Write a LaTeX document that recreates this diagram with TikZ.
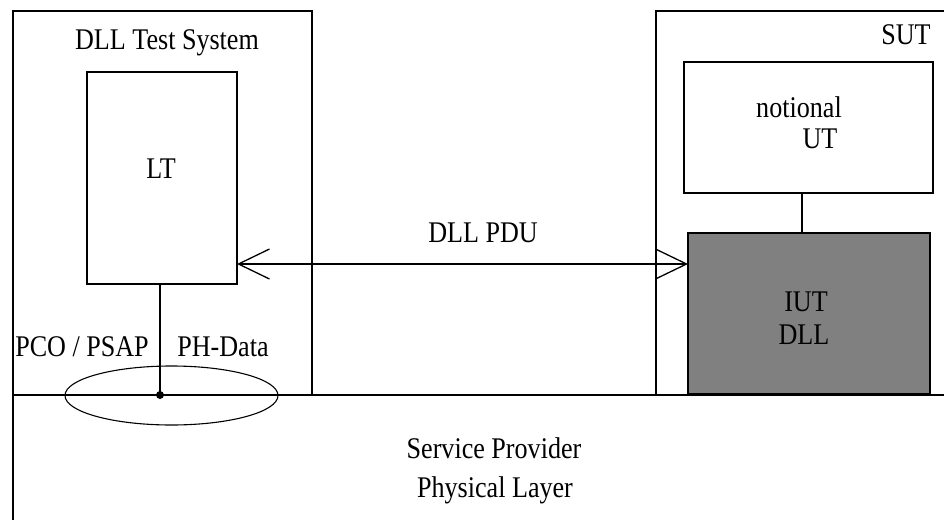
\documentclass[tikz,border=0pt]{standalone}
\usepackage{fontspec}
\setmainfont{Liberation Serif}[FakeStretch=0.87]
\usetikzlibrary{arrows.meta,shapes.geometric}
\definecolor{iutgray}{HTML}{808080}
\begin{document}
\begin{tikzpicture}[x=1pt,y=-1pt,
  box/.style={draw=black,line width=1.1pt,inner sep=0pt,outer sep=0pt,rectangle},
  lbl/.style={inner sep=0pt,anchor=base,font=\fontsize{30}{30}\selectfont},
  thick line/.style={line width=2pt},
  barb/.style={{Straight Barb[length=31pt,width=30pt,line width=1.3pt]}-{Straight Barb[length=31pt,width=30pt,line width=1.3pt]}}
]
\useasboundingbox[fill=white] (0,0) rectangle (944,519);
% outer boxes
\node[box,minimum width=299pt,minimum height=384pt] (dts) at (162.5,203) {};
\coordinate (sutTR) at (945,11);
\coordinate (sutTL) at (656,11);
\coordinate (sutBL) at (656,395);
\draw[line width=1.1pt] (sutTR) -- (sutTL) -- (sutBL);
% inner boxes
\node[box,minimum width=150pt,minimum height=212pt] (lt) at (162,178) {};
\node[box,minimum width=249pt,minimum height=131pt] (ut) at (808.5,127.5) {};
\node[box,fill=iutgray,minimum width=242pt,minimum height=161pt] (iut) at (809,313.5) {};
% service provider lines
\coordinate (spL) at (13,395);
\coordinate (spR) at (945,395);
\coordinate (spB) at (13,520);
\draw[line width=1.6pt] (spR) -- (spL) -- (spB);
% PCO ellipse and dot
\node[draw,ellipse,line width=1.1pt,minimum width=213pt,minimum height=59pt,inner sep=0pt] (pco) at (171.5,395.5) {};
\coordinate (dot) at (160,395);
\draw[thick line] (lt.south -| dot) -- (dot);
\fill (dot) circle (4pt);
% connector UT - IUT
\draw[thick line] (ut.south -| 802,0) -- (iut.north -| 802,0);
% DLL PDU arrow
\draw[thick line,barb] (lt.east |- 0,264) -- (iut.west |- 0,264);
% labels
\node[lbl] (tDTS) at (167,50) {DLL Test System};
\node[lbl] (tLT) at (161,178) {LT};
\node[lbl] (tSUT) at (906,45) {SUT};
\node[lbl] (tnot) at (799,117) {notional};
\node[lbl] (tUT) at (820,148) {UT};
\node[lbl] (tIUT) at (806,311) {IUT};
\node[lbl] (tDLL) at (804,344) {DLL};
\node[lbl] (tPDU) at (483,242) {DLL PDU};
\node[lbl] (tPCO) at (82,356) {PCO / PSAP};
\node[lbl] (tPH) at (223,356) {PH-Data};
\node[lbl] (tSP) at (494,458) {Service Provider};
\node[lbl] (tPL) at (495,497) {Physical Layer};
\end{tikzpicture}
\end{document}
